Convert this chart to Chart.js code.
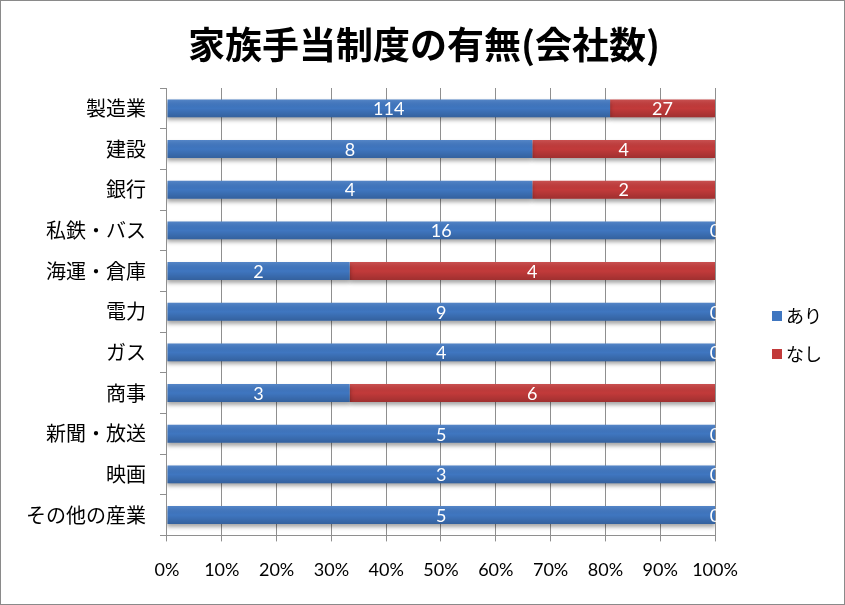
<!DOCTYPE html>
<html>
<head>
<meta charset="utf-8">
<script src="https://cdn.jsdelivr.net/npm/chart.js@4/dist/chart.umd.min.js"></script>
<style>
html,body{margin:0;padding:0;background:#fff;}
#wrap{width:845px;height:605px;position:relative;}
</style>
</head>
<body>
<div id="wrap"><canvas id="c" width="845" height="605"></canvas></div>
<script>
const categories = ["製造業","建設","銀行","私鉄・バス","海運・倉庫","電力","ガス","商事","新聞・放送","映画","その他の産業"];
const seriesNames = ["あり","なし"];
const ari  = [114, 8, 4, 16, 2, 9, 4, 3, 5, 3, 5];
const nashi = [27, 4, 2, 0, 4, 0, 0, 6, 0, 0, 0];
const xTickLabels = ["0%","10%","20%","30%","40%","50%","60%","70%","80%","90%","100%"];
const titleText = "家族手当制度の有無(会社数)";

const totals = ari.map((v,i)=>v+nashi[i]);
const ariPct = ari.map((v,i)=>v/totals[i]*100);
const nashiPct = nashi.map((v,i)=>v/totals[i]*100);
const counts = [ari, nashi];
const colors = ["#3F76C0", "#C23A3A"];

const LATIN = "Lato, 'Noto Sans CJK JP', sans-serif";
const JP = "'Noto Sans CJK JP', sans-serif";

const effectsPlugin = {
  id: 'effects',
  beforeDatasetDraw(chart) {
    const ctx = chart.ctx;
    ctx.save();
    ctx.shadowColor = 'rgba(0,0,0,0.35)';
    ctx.shadowBlur = 4;
    ctx.shadowOffsetY = 3;
  },
  afterDatasetDraw(chart) {
    chart.ctx.restore();
  },
  afterDatasetsDraw(chart) {
    const ctx = chart.ctx;
    const area = chart.chartArea;
    chart.data.datasets.forEach((ds, di) => {
      const meta = chart.getDatasetMeta(di);
      meta.data.forEach(el => {
        const left = Math.min(el.x, el.base), w = Math.abs(el.x - el.base);
        if (w <= 0) return;
        const top = el.y - el.height/2;
        const g = ctx.createLinearGradient(0, top, 0, top + el.height);
        g.addColorStop(0, 'rgba(255,255,255,0.12)');
        g.addColorStop(0.5, 'rgba(0,0,0,0)');
        g.addColorStop(1, 'rgba(0,0,0,0.18)');
        ctx.fillStyle = g;
        ctx.fillRect(left, top, w, el.height);
      });
    });
    ctx.save();
    ctx.beginPath();
    ctx.rect(area.left, area.top - 20, area.right - area.left + 1, area.bottom - area.top + 40);
    ctx.clip();
    ctx.fillStyle = '#fff';
    ctx.font = "18px " + LATIN;
    ctx.textAlign = 'center';
    ctx.textBaseline = 'middle';
    chart.data.datasets.forEach((ds, di) => {
      const meta = chart.getDatasetMeta(di);
      meta.data.forEach((el, i) => {
        const cx = (el.x + el.base) / 2;
        ctx.fillText(String(counts[di][i]), cx, el.y + 1);
      });
    });
    ctx.restore();
  },
  afterDraw(chart) {
    const ctx = chart.ctx;
    ctx.save();
    ctx.fillStyle = '#000';
    ctx.font = "bold 37px " + JP;
    ctx.textAlign = 'center';
    ctx.textBaseline = 'middle';
    ctx.fillText(titleText, 424, 45);
    ctx.font = "18px " + JP;
    ctx.textBaseline = 'middle';
    ctx.textAlign = 'left';
    const ly = [316, 354];
    seriesNames.forEach((n, i) => {
      ctx.fillStyle = colors[i];
      ctx.fillRect(772, ly[i] - 5, 10, 10);
      ctx.fillStyle = '#000';
      ctx.fillText(n, 786, ly[i]);
    });
    ctx.strokeStyle = '#8a8a8a';
    ctx.lineWidth = 1;
    ctx.strokeRect(0.5, 0.5, chart.width - 1, chart.height - 1);
    ctx.restore();
  }
};

new Chart(document.getElementById('c'), {
  type: 'bar',
  data: {
    labels: categories,
    datasets: [
      { label: seriesNames[0], data: ariPct, backgroundColor: colors[0], borderWidth: 0 },
      { label: seriesNames[1], data: nashiPct, backgroundColor: colors[1], borderWidth: 0 }
    ]
  },
  options: {
    indexAxis: 'y',
    responsive: false,
    animation: false,
    devicePixelRatio: 1,
    layout: { padding: { top: 88, bottom: 6, left: 12, right: 130 } },
    datasets: { bar: { categoryPercentage: 1, barPercentage: 0.44 } },
    scales: {
      x: {
        stacked: true, min: 0, max: 100,
        ticks: {
          stepSize: 10, padding: 18, color: '#000',
          font: { family: LATIN, size: 18 },
          callback: (v, i) => xTickLabels[i]
        },
        grid: { color: '#8f8f8f', lineWidth: 1, tickLength: 6, drawTicks: true },
        border: { color: '#8f8f8f' }
      },
      y: {
        stacked: true,
        ticks: { padding: 14, color: '#000', font: { family: JP, size: 20 } },
        grid: { drawOnChartArea: false, drawTicks: true, tickLength: 7, offset: true, color: '#8f8f8f' },
        border: { color: '#8f8f8f' }
      }
    },
    plugins: {
      legend: { display: false },
      tooltip: { enabled: false },
      title: { display: false }
    }
  },
  plugins: [effectsPlugin]
});
</script>
</body>
</html>
